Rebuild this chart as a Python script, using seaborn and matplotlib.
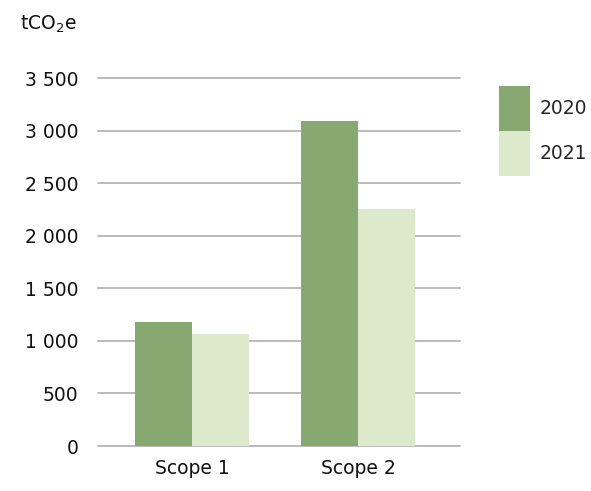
import numpy as np
import pandas as pd
import seaborn as sns
import matplotlib.pyplot as plt
from matplotlib.ticker import FuncFormatter
from matplotlib.patches import Patch

# data
scopes = ["Scope 1", "Scope 2"]
years = ["2020", "2021"]
emissions_2020 = [1175, 3095]
emissions_2021 = [1065, 2255]
colors = ["#87a870", "#dce9cb"]

df = pd.DataFrame({
    "scope": scopes * 2,
    "year": [years[0]] * 2 + [years[1]] * 2,
    "value": emissions_2020 + emissions_2021,
})

sns.set_style("white")
plt.rcParams['font.family'] = ['DejaVu Sans']
plt.rcParams['mathtext.fontset'] = 'custom'
plt.rcParams['mathtext.rm'] = 'DejaVu Sans'

FS = 13.5

fig = plt.figure(figsize=(5.91, 4.91), dpi=100)
ax = fig.add_axes([98 / 591, 1 - 446 / 491, (460 - 98) / 591, (446 - 78) / 491])

sns.barplot(data=df, x="scope", y="value", hue="year", palette=colors,
            width=0.69, saturation=1, linewidth=0, ax=ax, legend=False, zorder=3)

ax.set_xlim(-0.566, 1.614)
ax.set_ylim(0, 3500)
ax.set_yticks(np.arange(0, 3501, 500))
ax.yaxis.set_major_formatter(FuncFormatter(lambda v, p: f"{v:,.0f}".replace(",", " ")))
ax.grid(axis="y", color="#b5b5b5", linewidth=1.3, zorder=0)
ax.set_axisbelow(True)
for gl in ax.get_ygridlines():
    gl.set_clip_on(False)
for s in ax.spines.values():
    s.set_visible(False)
ax.tick_params(axis="y", length=0, pad=14, labelsize=FS, labelcolor="#111111")
ax.tick_params(axis="x", length=0, pad=9, labelsize=FS, labelcolor="#111111")
ax.set_xlabel("")
ax.set_ylabel("")

fig.text(20 / 591, 1 - 24 / 491, r"tCO$_\mathregular{2}$e", fontsize=FS,
         color="#111111", va="center", ha="left")

handles = [Patch(facecolor=c, edgecolor="none") for c in colors]
fig.legend(handles, years, loc="upper left", bbox_to_anchor=(499 / 591, 1 - 86 / 491),
           frameon=False, fontsize=FS, handlelength=1.65, handleheight=3.3,
           labelspacing=0, handletextpad=0.5, borderpad=0, borderaxespad=0)

plt.savefig("out.png", dpi=100)
